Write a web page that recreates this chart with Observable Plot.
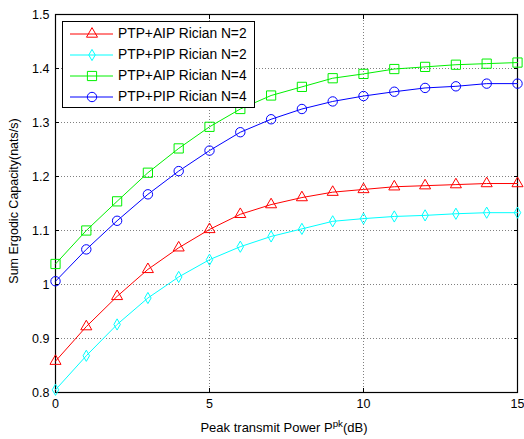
<!DOCTYPE html>
<html><head><meta charset="utf-8">
<script src="https://cdn.jsdelivr.net/npm/d3@7"></script>
<script src="https://cdn.jsdelivr.net/npm/@observablehq/plot@0.6"></script>
<style>
html,body{margin:0;padding:0;background:#fff;}
#wrap{position:relative;width:524px;height:439px;font-family:"Liberation Sans",Arial,sans-serif;overflow:hidden;color:#000}
#ylabel{position:absolute;left:-136px;top:193px;width:300px;height:16px;line-height:16px;text-align:center;font-size:12.5px;transform:rotate(-90deg);white-space:nowrap}
#xlabel{position:absolute;left:0;width:568px;top:419px;height:18px;line-height:18px;text-align:center;font-size:13px;white-space:nowrap}
#xlabel sup{font-size:0.75em;vertical-align:0.5em;line-height:0}
#legend{position:absolute;left:62px;top:21px;width:191px;height:85px;border:1px solid #000;background:#fff}
.row{position:absolute;left:0;height:20px;width:191px}
.row svg{position:absolute;left:0;top:0}
.row span{position:absolute;left:55px;top:1px;font-size:13.8px;line-height:18px;white-space:nowrap}
</style>
</head><body>
<div id="wrap">
  <div id="chart"></div>
  <div id="ylabel">Sum Ergodic Capacity(nats/s)</div>
  <div id="xlabel">Peak transmit Power P<sup>pk</sup>(dB)</div>
  <div id="legend"></div>
</div>
<script>
// ---- data ----
const power = [0,1,2,3,4,5,6,7,8,9,10,11,12,13,14,15];
const seriesNames = ["PTP+AIP Rician N=2","PTP+PIP Rician N=2","PTP+AIP Rician N=4","PTP+PIP Rician N=4"];
const aipN2 = [0.858,0.922,0.978,1.028,1.068,1.102,1.130,1.148,1.161,1.171,1.176,1.181,1.183,1.185,1.187,1.187];
const pipN2 = [0.805,0.868,0.926,0.975,1.014,1.046,1.070,1.089,1.103,1.117,1.122,1.126,1.128,1.131,1.133,1.133];
const aipN4 = [1.038,1.100,1.154,1.207,1.252,1.292,1.325,1.350,1.366,1.382,1.390,1.399,1.403,1.407,1.409,1.411];
const pipN4 = [1.006,1.065,1.118,1.167,1.210,1.248,1.282,1.306,1.325,1.339,1.349,1.357,1.364,1.367,1.372,1.372];
const xTicks = [0,5,10,15];
const yTicks = [0.8,0.9,1,1.1,1.2,1.3,1.4,1.5];

const seriesValues = [aipN2, pipN2, aipN4, pipN4];
const colors = ["#ff0000","#00ffff","#00f000","#0000ff"];
const symbols = ["triangle","diamond","square","circle"];
const radii = [4.1,3.4,5.2,4.7];

const rows = seriesNames.flatMap((name,i)=>power.map((p,j)=>({series:name, x:p, y:seriesValues[i][j]})));

const marks = [
  Plot.gridX(xTicks,{stroke:"#808080",strokeOpacity:1,strokeDasharray:"1,2"}),
  Plot.gridY(yTicks,{stroke:"#808080",strokeOpacity:1,strokeDasharray:"1,2"}),
  Plot.frame({stroke:"#000",strokeWidth:1.2}),
  Plot.axisX(xTicks,{anchor:"bottom",tickSize:-4,tickPadding:11,label:null,tickFormat:d=>String(d)}),
  Plot.axisX(xTicks,{anchor:"top",tickSize:-4,label:null,tickFormat:()=>""}),
  Plot.axisY(yTicks,{anchor:"left",tickSize:-4,tickPadding:10,label:null,tickFormat:d=>String(+d.toFixed(1))}),
  Plot.axisY(yTicks,{anchor:"right",tickSize:-4,label:null,tickFormat:()=>""})
];
seriesNames.forEach((name,i)=>{
  const d = rows.filter(r=>r.series===name);
  marks.push(Plot.line(d,{x:"x",y:"y",stroke:colors[i],strokeWidth:1}));
  marks.push(Plot.dot(d,{x:"x",y:"y",stroke:colors[i],fill:"none",symbol:symbols[i],r:radii[i],strokeWidth:1}));
});

const chart = Plot.plot({
  width:524, height:439,
  marginLeft:55, marginRight:7, marginTop:14, marginBottom:47,
  x:{domain:[0,15]},
  y:{domain:[0.8,1.5]},
  style:{fontFamily:"'Liberation Sans', Arial, sans-serif", fontSize:"12.5px", background:"#fff", color:"#000", overflow:"visible"},
  marks
});
document.getElementById("chart").appendChild(chart);

// legend
const symMap = {triangle:d3.symbolTriangle, diamond:d3.symbolDiamond, square:d3.symbolSquare, circle:d3.symbolCircle};
const legend = document.getElementById("legend");
const rowTops = [2,23,44,65];
seriesNames.forEach((name,i)=>{
  const row = document.createElement("div");
  row.className="row"; row.style.top = rowTops[i]+"px";
  const path = d3.symbol(symMap[symbols[i]], Math.PI*radii[i]*radii[i])();
  row.innerHTML = `<svg width="55" height="20"><line x1="7" x2="50" y1="10" y2="10" stroke="${colors[i]}" stroke-width="1"/><path d="${path}" transform="translate(29,10)" fill="none" stroke="${colors[i]}" stroke-width="1"/></svg><span>${name}</span>`;
  legend.appendChild(row);
});
</script>
</body></html>
